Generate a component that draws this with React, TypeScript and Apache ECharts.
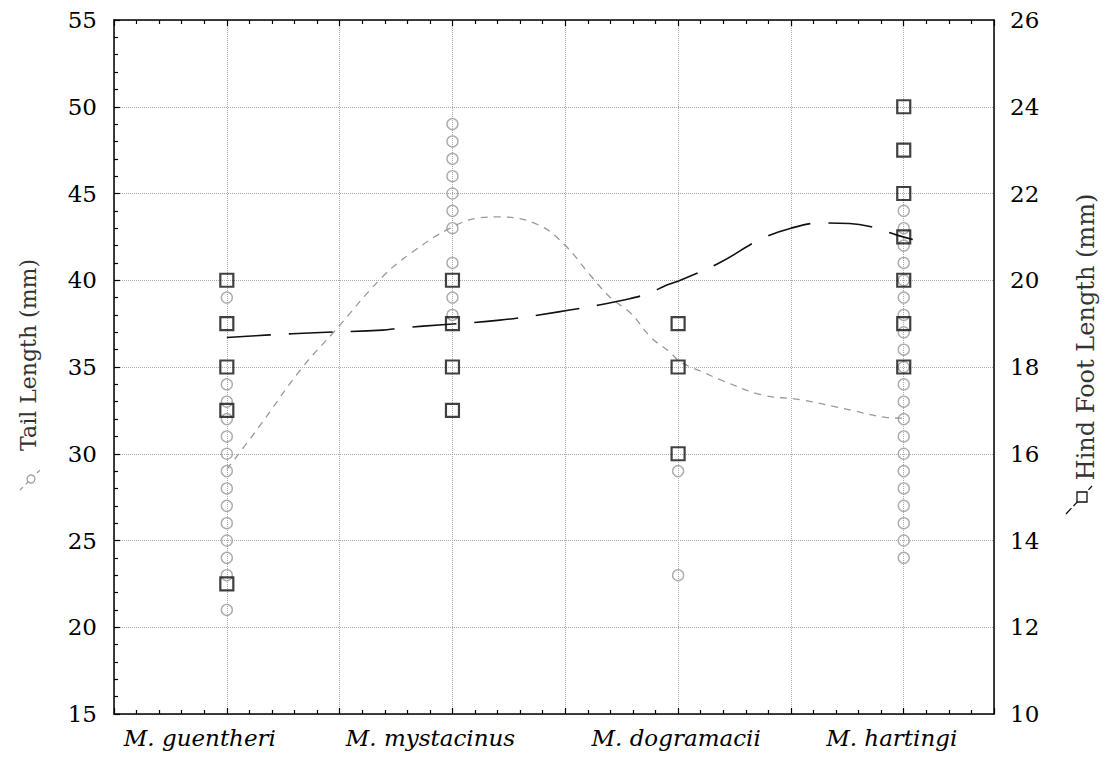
import React, { useEffect, useRef } from "react";
import * as echarts from "echarts";

const CATEGORIES = ["M. guentheri", "M. mystacinus", "M. dogramacii", "M. hartingi"];

// Tail length (mm), left axis — grey circles
const TAIL_GUENTHERI = [21, 23, 24, 25, 26, 27, 28, 29, 30, 31, 32, 33, 34, 39];
const TAIL_MYSTACINUS = [38, 39, 41, 43, 44, 45, 46, 47, 48, 49];
const TAIL_DOGRAMACII = [23, 29];
const TAIL_HARTINGI = [24, 25, 26, 27, 28, 29, 30, 31, 32, 33, 34, 35, 36, 37, 38, 39, 40, 41, 42, 43, 44];

// Hind foot length (mm), right axis — black squares
const FOOT_GUENTHERI = [13, 17, 18, 19, 20];
const FOOT_MYSTACINUS = [17, 18, 19, 20];
const FOOT_DOGRAMACII = [16, 18, 19];
const FOOT_HARTINGI = [18, 19, 20, 21, 22, 23, 24];

// Fitted curves
const TAIL_CURVE_X = [1.0, 1.14, 1.33, 1.48, 1.69, 1.82, 1.99, 2.12, 2.21, 2.38, 2.5, 2.61, 2.7, 2.79, 2.88, 2.96, 3.01, 3.12, 3.19, 3.37, 3.55, 3.77, 3.92, 4.0];
const TAIL_CURVE_Y = [29.1, 31.5, 34.9, 37.1, 40.2, 41.6, 43.0, 43.6, 43.65, 43.2, 42.0, 40.3, 39.0, 38.1, 36.7, 35.9, 35.3, 34.65, 34.25, 33.4, 33.1, 32.5, 32.1, 32.05];

const FOOT_CURVE_X = [1.0, 1.19, 1.39, 1.69, 1.77, 1.97, 2.21, 2.47, 2.65, 2.79, 2.87, 2.95, 3.01, 3.19, 3.36, 3.5, 3.63, 3.76, 3.85, 3.97, 4.04];
const FOOT_CURVE_Y = [18.68, 18.74, 18.79, 18.85, 18.9, 18.98, 19.08, 19.27, 19.43, 19.58, 19.7, 19.89, 20.0, 20.42, 20.93, 21.2, 21.32, 21.31, 21.24, 21.04, 20.94];

const TAIL_GROUPS = [TAIL_GUENTHERI, TAIL_MYSTACINUS, TAIL_DOGRAMACII, TAIL_HARTINGI];
const FOOT_GROUPS = [FOOT_GUENTHERI, FOOT_MYSTACINUS, FOOT_DOGRAMACII, FOOT_HARTINGI];

const SERIF = "DejaVu Serif";

export default function App() {
  const ref = useRef<HTMLDivElement>(null);

  useEffect(() => {
    if (!ref.current) return;
    const chart = echarts.init(ref.current, null, { renderer: "svg" });

    const tailPoints: number[][] = [];
    TAIL_GROUPS.forEach((g, i) => g.forEach((v) => tailPoints.push([i + 1, v])));
    const footPoints: number[][] = [];
    FOOT_GROUPS.forEach((g, i) => g.forEach((v) => footPoints.push([i + 1, v])));
    const tailCurve = TAIL_CURVE_X.map((x, i) => [x, TAIL_CURVE_Y[i]]);
    const footCurve = FOOT_CURVE_X.map((x, i) => [x, FOOT_CURVE_Y[i]]);

    const axisLine = { show: true, onZero: false, lineStyle: { color: "#000", width: 1.5 } };
    const tick = { show: true, inside: true, length: 6, lineStyle: { color: "#000", width: 1.2 } };
    const minor = { show: true, splitNumber: 5, length: 4, lineStyle: { color: "#000", width: 1.2 } };
    const grid = { show: true, lineStyle: { color: "#aaa", type: "dotted", width: 1 } };

    const labelStyle = { fontFamily: SERIF, fontStyle: "italic", fontSize: 23, color: "#000" };
    const catFormatter = (v: number) => {
      const i = Math.round(v);
      if (Math.abs(v - i) < 1e-6 && i >= 1 && i <= 4) return `{c${i - 1}|${CATEGORIES[i - 1]}}`;
      return "";
    };

    chart.setOption({
      animation: false,
      backgroundColor: "#fff",
      grid: { left: 114, right: 113, top: 20, bottom: 43 },
      xAxis: [
        {
          type: "value",
          min: 0.5,
          max: 4.4,
          interval: 0.5,
          position: "bottom",
          axisLine,
          axisTick: tick,
          minorTick: minor,
          splitLine: grid,
          axisLabel: {
            formatter: catFormatter,
            ...labelStyle,
            margin: 12,
            showMinLabel: false,
            showMaxLabel: false,
            rich: {
              c0: { ...labelStyle, padding: [0, 54, 0, 0] },
              c1: { ...labelStyle, padding: [0, 44, 0, 0] },
              c2: { ...labelStyle, padding: [0, 4, 0, 0] },
              c3: { ...labelStyle, padding: [0, 24, 0, 0] },
            },
          },
        },
        {
          type: "value",
          min: 0.5,
          max: 4.4,
          interval: 0.5,
          position: "top",
          axisLine,
          axisTick: tick,
          minorTick: minor,
          splitLine: { show: false },
          axisLabel: { show: false },
        },
      ],
      yAxis: [
        {
          type: "value",
          min: 15,
          max: 55,
          interval: 5,
          position: "left",
          axisLine,
          axisTick: tick,
          minorTick: minor,
          splitLine: grid,
          axisLabel: { fontFamily: SERIF, fontSize: 23, color: "#000", margin: 17 },
        },
        {
          type: "value",
          min: 10,
          max: 26,
          interval: 2,
          position: "right",
          axisLine,
          axisTick: { show: false },
          splitLine: { show: false },
          axisLabel: { fontFamily: SERIF, fontSize: 23, color: "#000", margin: 16 },
        },
      ],
      series: [
        {
          type: "scatter",
          xAxisIndex: 0,
          yAxisIndex: 0,
          data: tailPoints,
          symbol: "circle",
          symbolSize: 11,
          itemStyle: { color: "rgba(255,255,255,0)", borderColor: "#999", borderWidth: 1.4 },
          z: 2,
        },
        {
          type: "line",
          xAxisIndex: 0,
          yAxisIndex: 0,
          data: tailCurve,
          smooth: 0.4,
          showSymbol: false,
          lineStyle: { color: "#999", width: 1.3, type: [7, 6] },
          z: 3,
        },
        {
          type: "scatter",
          xAxisIndex: 0,
          yAxisIndex: 1,
          data: footPoints,
          symbol: "rect",
          symbolSize: 13,
          itemStyle: { color: "rgba(255,255,255,0)", borderColor: "#111", borderWidth: 2.2 },
          z: 4,
        },
        {
          type: "line",
          xAxisIndex: 0,
          yAxisIndex: 1,
          data: footCurve,
          smooth: 0.4,
          showSymbol: false,
          lineStyle: { color: "#111", width: 1.6, type: [44, 18] },
          z: 5,
        },
      ],
      graphic: [
        {
          type: "text",
          x: 28,
          y: 355,
          rotation: Math.PI / 2,
          style: {
            text: "Tail Length (mm)",
            font: `22px "${SERIF}"`,
            fill: "#333",
            align: "center",
            verticalAlign: "middle",
          },
        },
        {
          type: "line",
          shape: { x1: 20, y1: 490, x2: 42, y2: 468 },
          style: { stroke: "#999", lineWidth: 1.2, lineDash: [4, 4] },
        },
        {
          type: "circle",
          shape: { cx: 31, cy: 479, r: 4 },
          style: { fill: "#fff", stroke: "#999", lineWidth: 1.2 },
        },
        {
          type: "text",
          x: 1086,
          y: 337,
          rotation: Math.PI / 2,
          style: {
            text: "Hind Foot Length (mm)",
            font: `24px "${SERIF}"`,
            fill: "#333",
            align: "center",
            verticalAlign: "middle",
          },
        },
        {
          type: "line",
          shape: { x1: 1066, y1: 514, x2: 1092, y2: 486 },
          style: { stroke: "#111", lineWidth: 1.3, lineDash: [8, 3] },
        },
        {
          type: "rect",
          shape: { x: 1077, y: 492, width: 10, height: 10 },
          style: { fill: "#fff", stroke: "#111", lineWidth: 1.3 },
        },
      ],
    });

    return () => chart.dispose();
  }, []);

  return (
    <div
      ref={ref}
      style={{ position: "fixed", left: 0, top: 0, width: "1107px", height: "757px" }}
    />
  );
}
